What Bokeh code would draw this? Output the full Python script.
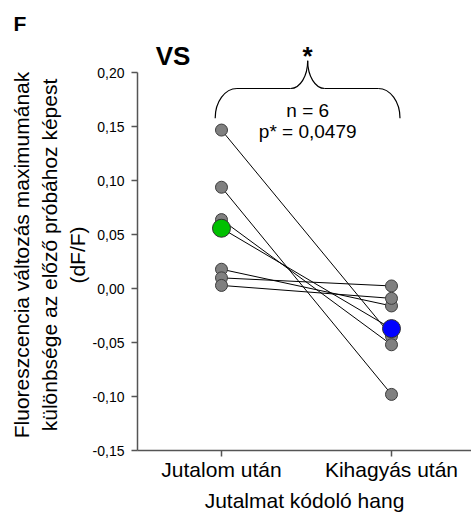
from bokeh.plotting import figure
from bokeh.models import FixedTicker, Label, Range1d, LinearAxis, Title
from bokeh.embed import file_html
from bokeh.resources import INLINE

# ---- data ----
categories = ["Jutalom után", "Kihagyás után"]
cat_x = [1, 2]
left_vals = [0.147, 0.094, 0.064, 0.018, 0.010, 0.003]
right_vals = [-0.044, -0.098, -0.052, -0.016, 0.0025, -0.009]
mean_vals = [0.056, -0.037]
y_ticks = [-0.15, -0.10, -0.05, 0.0, 0.05, 0.10, 0.15, 0.20]
y_tick_labels = ["-0,15", "-0,10", "-0,05", "0,00", "0,05", "0,10", "0,15", "0,20"]
top_x = [0.715, 1.507]
top_texts = ["VS", "*"]

FONT = "Liberation Sans"

panel_title = Title(text="F", align="left", offset=-124, text_font=FONT,
                    text_font_size="21px", text_font_style="bold", text_color="black",
                    standoff=6)

p = figure(width=471, height=514, title=panel_title,
           x_range=Range1d(0.506, 2.4706), y_range=Range1d(-0.15, 0.2124),
           output_backend="svg", toolbar_location=None,
           min_border_left=137, min_border_right=0,
           min_border_top=59, min_border_bottom=61)
p.outline_line_color = None
p.xgrid.visible = False
p.ygrid.visible = False

# paired lines
p.segment(x0=[cat_x[0]] * len(left_vals), y0=left_vals,
          x1=[cat_x[1]] * len(right_vals), y1=right_vals,
          line_color="black", line_width=1)
p.segment(x0=[cat_x[0]], y0=[mean_vals[0]], x1=[cat_x[1]], y1=[mean_vals[1]],
          line_color="black", line_width=1)

# individual points
p.scatter(x=[cat_x[0]] * len(left_vals), y=left_vals, size=12,
          fill_color="#808080", line_color="#3c3c3c", line_width=1)
p.scatter(x=[cat_x[1]] * len(right_vals), y=right_vals, size=12,
          fill_color="#808080", line_color="#3c3c3c", line_width=1)
# means
p.scatter(x=[cat_x[0]], y=[mean_vals[0]], size=18,
          fill_color="#00c000", line_color="#303030", line_width=1)
p.scatter(x=[cat_x[1]], y=[mean_vals[1]], size=18,
          fill_color="#0000ff", line_color="#303030", line_width=1)

# curly brace (data coordinates)
bx0, bx1, bmid = 0.963, 2.05, 1.507
y_end, y_h, y_peak = 0.158, 0.1855, 0.2112
dx1, dx2, k = 0.128, 0.10, 0.552
bz = dict(x0=[], y0=[], x1=[], y1=[], cx0=[], cy0=[], cx1=[], cy1=[])
def add_curve(xa, ya, xb, yb, c0, c1):
    bz["x0"].append(xa); bz["y0"].append(ya); bz["x1"].append(xb); bz["y1"].append(yb)
    bz["cx0"].append(c0[0]); bz["cy0"].append(c0[1]); bz["cx1"].append(c1[0]); bz["cy1"].append(c1[1])
add_curve(bx0, y_end, bx0 + dx1, y_h,
          (bx0, y_end + k * (y_h - y_end)), (bx0 + dx1 - k * dx1, y_h))
add_curve(bx1, y_end, bx1 - dx1, y_h,
          (bx1, y_end + k * (y_h - y_end)), (bx1 - dx1 + k * dx1, y_h))
add_curve(bmid - dx2, y_h, bmid, y_peak,
          (bmid - dx2 + k * dx2, y_h), (bmid, y_peak - k * (y_peak - y_h)))
add_curve(bmid + dx2, y_h, bmid, y_peak,
          (bmid + dx2 - k * dx2, y_h), (bmid, y_peak - k * (y_peak - y_h)))
p.bezier(line_color="black", line_width=1.2, **bz)
p.segment(x0=[bx0 + dx1, bmid + dx2], y0=[y_h, y_h],
          x1=[bmid - dx2, bx1 - dx1], y1=[y_h, y_h],
          line_color="black", line_width=1.2)

# axes
for ax in (p.xaxis[0], p.yaxis[0]):
    ax.axis_line_color = "#555555"
    ax.axis_line_width = 1.5
    ax.major_tick_line_color = "#555555"
    ax.major_tick_line_width = 1.5
    ax.major_tick_out = 6
    ax.major_tick_in = 0
    ax.minor_tick_out = 0
    ax.minor_tick_in = 0
    ax.major_label_text_font = FONT
    ax.major_label_text_color = "black"
    ax.axis_label_text_font = FONT
    ax.axis_label_text_font_style = "normal"
    ax.axis_label_text_color = "black"

p.yaxis.ticker = FixedTicker(ticks=y_ticks)
p.yaxis.major_label_overrides = dict(zip(y_ticks, y_tick_labels))
p.yaxis.major_label_text_font_size = "14px"
p.yaxis.major_label_standoff = 7
p.yaxis.bounds = (-0.15, 0.20)
p.yaxis.axis_label = "Fluoreszcencia változás maximumának\nkülönbsége az előző próbához képest\n(dF/F)"
p.yaxis.axis_label_text_font_size = "21px"
p.yaxis.axis_label_standoff = 1

p.xaxis.ticker = FixedTicker(ticks=cat_x)
p.xaxis.major_label_overrides = dict(zip(cat_x, categories))
p.xaxis.major_label_text_font_size = "21px"
p.xaxis.major_label_standoff = 1
p.xaxis.axis_label = "Jutalmat kódoló hang"
p.xaxis.axis_label_text_font_size = "21px"
p.xaxis.axis_label_standoff = 5

# "VS" and significance star, shown as labels of an invisible top axis
top_ax = LinearAxis(ticker=FixedTicker(ticks=top_x),
                    major_label_overrides=dict(zip(top_x, top_texts)),
                    axis_line_color=None, major_tick_line_color=None,
                    minor_tick_line_color=None, major_tick_out=0, major_tick_in=0,
                    minor_tick_out=0, minor_tick_in=0,
                    major_label_text_font=FONT, major_label_text_font_size="26px",
                    major_label_text_font_style="bold", major_label_text_color="black",
                    major_label_standoff=-11)
p.add_layout(top_ax, "above")

# statistics text inside the brace
for yv, txt in [(0.1654, "n = 6"), (0.1461, "p* = 0,0479")]:
    p.add_layout(Label(x=bmid, y=yv, text=txt, text_font=FONT, text_font_size="19px",
                       text_align="center", text_baseline="middle", text_color="black"))

open("out.html", "w").write(file_html(p, INLINE))
